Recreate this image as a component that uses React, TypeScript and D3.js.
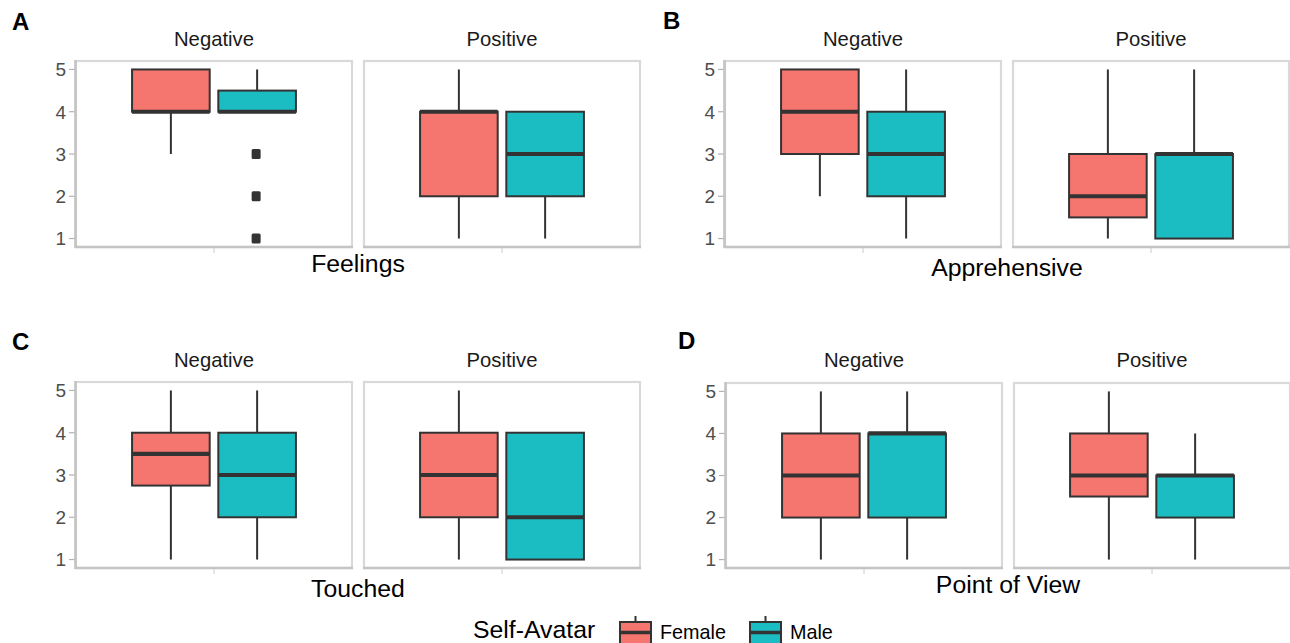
import React from "react";
import * as d3 from "d3";

// Facet and group labels
const tags = ["A", "B", "C", "D"];
const measures = ["Feelings", "Apprehensive", "Touched", "Point of View"];
const valences = ["Negative", "Positive"];
const avatars = ["Female", "Male"];
const avatarColors = ["#F5766F", "#1CBDC2"];
const yTicks = [1, 2, 3, 4, 5];

// Box summaries: [lower whisker, Q1, median, Q3, upper whisker]
// order: Negative/Female, Negative/Male, Positive/Female, Positive/Male
const feelingsStats = [
  [3, 4, 4, 5, 5],
  [4, 4, 4, 4.5, 5],
  [1, 2, 4, 4, 5],
  [1, 2, 3, 4, 4],
];
const feelingsOutliers = [[], [3, 2, 1], [], []];

const apprehensiveStats = [
  [2, 3, 4, 5, 5],
  [1, 2, 3, 4, 5],
  [1, 1.5, 2, 3, 5],
  [1, 1, 3, 3, 5],
];
const apprehensiveOutliers = [[], [], [], []];

const touchedStats = [
  [1, 2.75, 3.5, 4, 5],
  [1, 2, 3, 4, 5],
  [1, 2, 3, 4, 5],
  [1, 1, 2, 4, 4],
];
const touchedOutliers = [[], [], [], []];

const viewStats = [
  [1, 2, 3, 4, 5],
  [1, 2, 4, 4, 5],
  [1, 2.5, 3, 4, 5],
  [1, 2, 3, 3, 4],
];
const viewOutliers = [[], [], [], []];

const allStats = [feelingsStats, apprehensiveStats, touchedStats, viewStats];
const allOutliers = [feelingsOutliers, apprehensiveOutliers, touchedOutliers, viewOutliers];

const FONT = "'Liberation Sans', Arial, Helvetica, sans-serif";
const INK = "#333333";

const layouts = [
  { left: 76, top: 61, bottom: 247, tagX: 12, tagY: 30, stripY: 45.5, titleY: 272 },
  { left: 725, top: 61, bottom: 247, tagX: 663, tagY: 29, stripY: 45.5, titleY: 276 },
  { left: 76, top: 382, bottom: 568, tagX: 12, tagY: 350, stripY: 367, titleY: 597 },
  { left: 726, top: 383, bottom: 568, tagX: 678, tagY: 349, stripY: 367, titleY: 593 },
];
const PANEL_W = 276;
const PANEL_GAP = 12;

// dodge geometry in x-units (single discrete x level at 1)
const DODGE = 0.1875;
const BOX_W = 0.3375;

function Subplot({ idx }: { idx: number }) {
  const L = layouts[idx];
  const stats = allStats[idx];
  const outliers = allOutliers[idx];
  const y = d3.scaleLinear().domain([0.8, 5.2]).range([L.bottom, L.top]);
  const fullRight = L.left + 2 * PANEL_W + PANEL_GAP;

  return (
    <g>
      <text x={L.tagX} y={L.tagY} fontSize={24} fontWeight="bold" fill="#000">
        {tags[idx]}
      </text>
      {valences.map((v, vi) => {
        const x0 = L.left + vi * (PANEL_W + PANEL_GAP);
        const x = d3.scaleLinear().domain([0.4, 1.6]).range([x0, x0 + PANEL_W]);
        const cx = x(1);
        return (
          <g key={v}>
            <text x={cx} y={L.stripY} fontSize={20.3} textAnchor="middle" fill="#1a1a1a">
              {v}
            </text>
            <rect
              x={x0}
              y={L.top}
              width={PANEL_W}
              height={L.bottom - L.top}
              fill="#fff"
              stroke="#d9d9d9"
              strokeWidth={2.2}
            />
            {/* bottom axis line and x tick */}
            <line x1={x0 - 1} x2={x0 + PANEL_W + 1} y1={L.bottom} y2={L.bottom} stroke="#c4c4c4" strokeWidth={2.4} />
            <line x1={cx} x2={cx} y1={L.bottom + 1} y2={L.bottom + 6} stroke="#cccccc" strokeWidth={1} />
            {avatars.map((a, ai) => {
              const s = stats[vi * 2 + ai];
              const bx = x(1 + (ai === 0 ? -DODGE : DODGE));
              const half = x(1 + BOX_W / 2) - x(1);
              const [lo, q1, med, q3, hi] = s;
              return (
                <g key={a}>
                  <line x1={bx} x2={bx} y1={y(q3)} y2={y(hi)} stroke={INK} strokeWidth={2} />
                  <line x1={bx} x2={bx} y1={y(q1)} y2={y(lo)} stroke={INK} strokeWidth={2} />
                  <rect
                    x={bx - half}
                    y={y(q3)}
                    width={2 * half}
                    height={Math.max(0, y(q1) - y(q3))}
                    fill={avatarColors[ai]}
                    stroke={INK}
                    strokeWidth={2}
                  />
                  <line x1={bx - half} x2={bx + half} y1={y(med)} y2={y(med)} stroke={INK} strokeWidth={4.2} />
                  {outliers[vi * 2 + ai].map((o, oi) => (
                    <rect key={oi} x={bx - 5.5} y={y(o) - 5} width={9} height={10} rx={1.5} fill={INK} />
                  ))}
                </g>
              );
            })}
          </g>
        );
      })}
      {/* left axis */}
      <line x1={L.left - 0.5} x2={L.left - 0.5} y1={L.top - 1} y2={L.bottom + 1} stroke="#c4c4c4" strokeWidth={2.6} />
      {yTicks.map((t) => (
        <g key={t}>
          <line x1={L.left - 7} x2={L.left - 1.5} y1={y(t)} y2={y(t)} stroke="#b3b3b3" strokeWidth={1.2} />
          <text x={L.left - 10} y={y(t)} dy="0.36em" fontSize={19} textAnchor="end" fill="#4d4d4d">
            {t}
          </text>
        </g>
      ))}
      <text x={(L.left + fullRight) / 2} y={L.titleY} fontSize={24.8} textAnchor="middle" fill="#000">
        {measures[idx]}
      </text>
    </g>
  );
}

function LegendKey({ x, color }: { x: number; color: string }) {
  return (
    <g>
      <line x1={x + 15.5} x2={x + 15.5} y1={616} y2={622} stroke={INK} strokeWidth={2} />
      <rect x={x} y={622} width={31} height={22} fill={color} stroke={INK} strokeWidth={2} />
      <line x1={x} x2={x + 31} y1={632.5} y2={632.5} stroke={INK} strokeWidth={3.5} />
    </g>
  );
}

export default function App() {
  return (
    <svg
      width={1290}
      height={643}
      style={{ position: "absolute", left: 0, top: 0, display: "block", background: "#fff" }}
      fontFamily={FONT}
    >
      <rect x={0} y={0} width={1290} height={643} fill="#fff" />
      {measures.map((m, i) => (
        <Subplot key={m} idx={i} />
      ))}
      <text x={473} y={638} fontSize={24.8} fill="#000">
        Self-Avatar
      </text>
      <LegendKey x={620} color={avatarColors[0]} />
      <text x={660} y={639} fontSize={19.8} fill="#000">
        {avatars[0]}
      </text>
      <LegendKey x={750} color={avatarColors[1]} />
      <text x={790} y={639} fontSize={19.8} fill="#000">
        {avatars[1]}
      </text>
    </svg>
  );
}
